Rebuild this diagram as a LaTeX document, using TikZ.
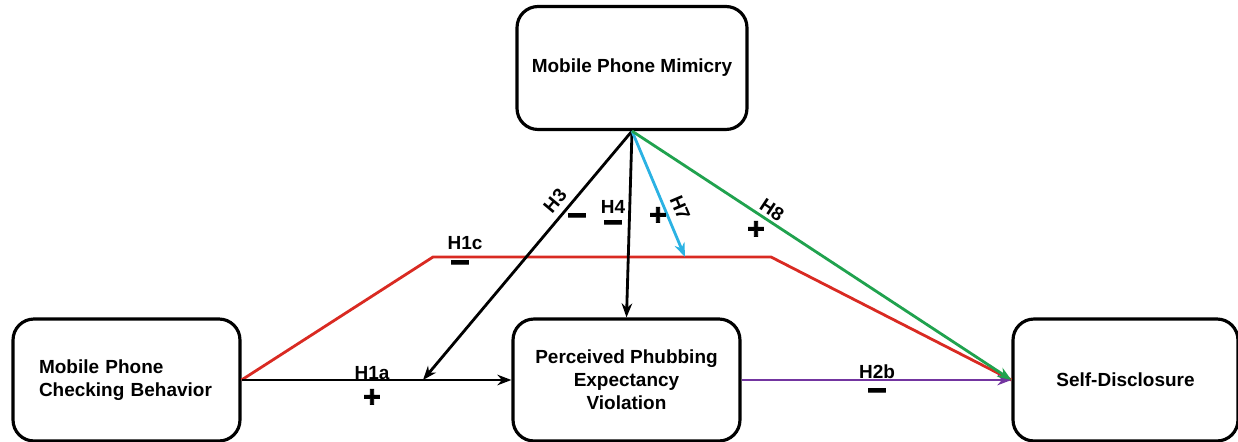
\documentclass[tikz,border=0pt]{standalone}
\usepackage{fontspec}
\setmainfont{Liberation Sans}
\newfontfamily\signfont{Liberation Sans Bold}[FakeBold=2.5]
\usetikzlibrary{arrows.meta}
\definecolor{hred}{HTML}{D92A22}
\definecolor{hblue}{HTML}{2BB2E3}
\definecolor{hgreen}{HTML}{20A24E}
\definecolor{hpurple}{HTML}{7335A0}
\tikzset{block/.style = {draw, fill=white, line width=1.8pt, rectangle, rounded corners=0.42cm, minimum height=2.44cm, minimum width=4.54cm, font=\fontsize{10.8}{13}\selectfont\bfseries},
         hyp/.style = {font=\fontsize{10.8}{13}\selectfont\bfseries, inner sep=0pt},
         minus/.style = {font=\fontsize{19}{19}\selectfont\signfont, inner sep=0pt},
         plus/.style = {font=\fontsize{17}{17}\selectfont\signfont, inner sep=0pt},
         path/.style = {-{Stealth[length=8pt,width=6pt]}, line width=1.6pt}}

\begin{document}
\begin{tikzpicture}[x=0.02cm,y=-0.02cm]
    \useasboundingbox (0,0) rectangle (1238,442);
    \clip (0,0) rectangle (1238,442);
        \node[block, minimum width=4.6cm, minimum height=2.46cm](mim)at(632,68){Mobile Phone Mimicry};
        \node[block, text width=3.5cm, align=left](chk)at(126.5,380){Mobile Phone\\Checking Behavior};
        \node[block, align=center](pev)at(626.5,380){Perceived Phubbing\\Expectancy\\Violation};
        \node[block, minimum width=4.5cm](sd)at(1125.5,380){Self-Disclosure};

        % bends of H1c and the ends that stop on other paths
        \coordinate (c1) at (433,257);
        \coordinate (c2) at (771,257);
        \coordinate (h3end) at (423,380);
        \coordinate (h7end) at (685,257);

        \draw[-, hred, line width=1.6pt](chk.east)--(c1)--(c2)--(sd.west);
        \draw[path](chk.east)--(pev.west);
        \draw[path, hpurple](pev.east)--(sd.west);
        \draw[path](mim.south)--(h3end);
        \draw[path](mim.south)--(pev.north);
        \draw[path, hblue](mim.south)--(h7end);
        \draw[path, hgreen](mim.south)--(sd.west);

        \node[hyp, rotate=50](h3)at(555,201){H3};
        \node[minus](s3)at(577,220){−};
        \node[hyp](h4)at(613,207){H4};
        \node[minus](s4)at(613,227){−};
        \node[plus](s7)at(658,216){+};
        \node[hyp, rotate=-67](h7)at(680,208){H7};
        \node[hyp, rotate=-33.5](h8)at(772,210){H8};
        \node[plus](s8)at(756,230){+};
        \node[hyp](h1c)at(465,243){H1c};
        \node[minus](s1c)at(460,267){−};
        \node[hyp](h1a)at(372,373){H1a};
        \node[plus](s1a)at(372,398){+};
        \node[hyp](h2b)at(877,372){H2b};
        \node[minus](s2b)at(877,395){−};
    \end{tikzpicture}
\end{document}
